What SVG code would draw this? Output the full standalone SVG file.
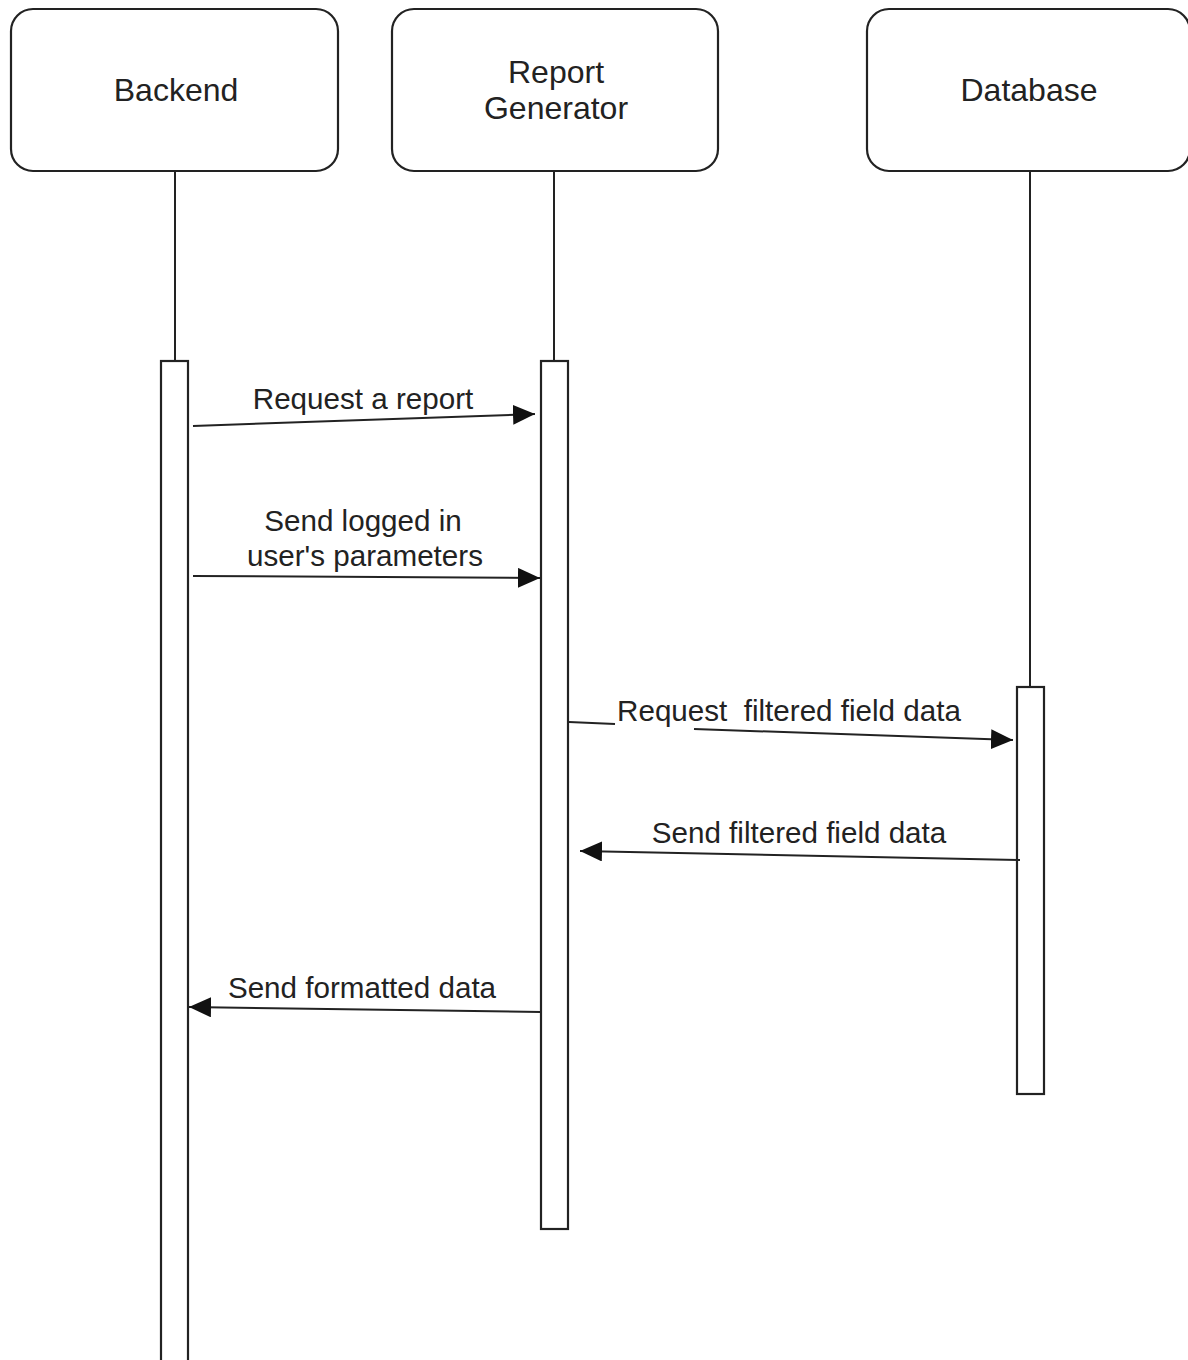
<svg xmlns="http://www.w3.org/2000/svg" width="1188" height="1360" viewBox="0 0 1188 1360">
<style>
.box{fill:#fff;stroke:#222;stroke-width:2.2}
.life{stroke:#222;stroke-width:2;fill:none}
.act{fill:#fff;stroke:#222;stroke-width:2.2}
.msg{stroke:#222;stroke-width:2;fill:none}
.nt{font-family:"Liberation Sans",Arial,sans-serif;font-size:32px;fill:#222;text-anchor:middle}
.lt{font-family:"Liberation Sans",Arial,sans-serif;font-size:29.6px;fill:#222;text-anchor:middle}
</style>
<defs>
<marker id="ah" markerUnits="userSpaceOnUse" markerWidth="24" markerHeight="22" refX="22" refY="10" orient="auto">
<path d="M0,0 L22,10 L0,20 Z" fill="#111"/>
</marker>
</defs>
<rect width="1188" height="1360" fill="#fff"/>
<g id="lifelines">
<line class="life" x1="175" y1="171" x2="175" y2="361"/>
<line class="life" x1="554" y1="171" x2="554" y2="361"/>
<line class="life" x1="1030" y1="171" x2="1030" y2="687"/>
</g>
<g id="backend">
<rect class="box" x="11" y="9" width="327" height="162" rx="22"/>
<text class="nt" x="176" y="101">Backend</text>
<rect class="act" x="161" y="361" width="27" height="1010"/>
</g>
<g id="report-generator">
<rect class="box" x="392" y="9" width="326" height="162" rx="22"/>
<text class="nt" x="556" y="83">Report</text>
<text class="nt" x="556" y="119">Generator</text>
<rect class="act" x="541" y="361" width="27" height="868"/>
</g>
<g id="database">
<rect class="box" x="867" y="9" width="323" height="162" rx="22"/>
<text class="nt" x="1029" y="101">Database</text>
<rect class="act" x="1017" y="687" width="27" height="407"/>
</g>
<g id="connectors">
<line class="msg" x1="193" y1="426" x2="535" y2="414" marker-end="url(#ah)"/>
<line class="msg" x1="193" y1="576" x2="540" y2="578" marker-end="url(#ah)"/>
<line class="msg" x1="569" y1="722" x2="615" y2="724"/>
<line class="msg" x1="694" y1="729" x2="1013" y2="740" marker-end="url(#ah)"/>
<line class="msg" x1="1020" y1="860" x2="580" y2="851" marker-end="url(#ah)"/>
<line class="msg" x1="541" y1="1012" x2="189" y2="1007" marker-end="url(#ah)"/>
</g>
<g id="labels">
<text class="lt" x="363" y="409">Request a report</text>
<text class="lt" x="363" y="531">Send logged in</text>
<text class="lt" x="365" y="566">user's parameters</text>
<text class="lt" x="789" y="721">Request &#160;filtered field data</text>
<text class="lt" x="799" y="843">Send filtered field data</text>
<text class="lt" x="362" y="998">Send formatted data</text>
</g>
</svg>
